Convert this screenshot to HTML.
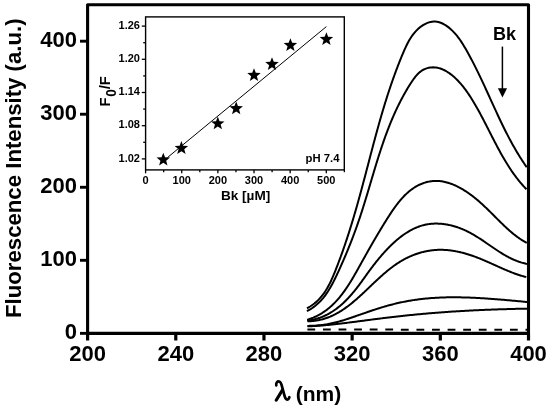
<!DOCTYPE html>
<html><head><meta charset="utf-8"><style>
html,body{margin:0;padding:0;background:#fff;}
svg{display:block;will-change:transform;}
</style></head><body>
<svg width="550" height="412" viewBox="0 0 550 412">
<rect x="87.6" y="4.7" width="440.9" height="328.7" fill="none" stroke="#000" stroke-width="3.1" stroke-linejoin="round"/>
<line x1="87.60" y1="333.4" x2="87.60" y2="340.5" stroke="#000" stroke-width="3.2"/>
<text x="87.60" y="360.6" font-size="22" text-anchor="middle" font-family="'Liberation Sans', sans-serif" font-weight="bold">200</text>
<line x1="175.78" y1="333.4" x2="175.78" y2="340.5" stroke="#000" stroke-width="3.2"/>
<text x="175.78" y="360.6" font-size="22" text-anchor="middle" font-family="'Liberation Sans', sans-serif" font-weight="bold">240</text>
<line x1="263.96" y1="333.4" x2="263.96" y2="340.5" stroke="#000" stroke-width="3.2"/>
<text x="263.96" y="360.6" font-size="22" text-anchor="middle" font-family="'Liberation Sans', sans-serif" font-weight="bold">280</text>
<line x1="352.14" y1="333.4" x2="352.14" y2="340.5" stroke="#000" stroke-width="3.2"/>
<text x="352.14" y="360.6" font-size="22" text-anchor="middle" font-family="'Liberation Sans', sans-serif" font-weight="bold">320</text>
<line x1="440.32" y1="333.4" x2="440.32" y2="340.5" stroke="#000" stroke-width="3.2"/>
<text x="440.32" y="360.6" font-size="22" text-anchor="middle" font-family="'Liberation Sans', sans-serif" font-weight="bold">360</text>
<line x1="528.50" y1="333.4" x2="528.50" y2="340.5" stroke="#000" stroke-width="3.2"/>
<text x="528.50" y="360.6" font-size="22" text-anchor="middle" font-family="'Liberation Sans', sans-serif" font-weight="bold">400</text>
<line x1="80.0" y1="333.35" x2="87.6" y2="333.35" stroke="#000" stroke-width="2.9"/>
<text x="77.0" y="339.05" font-size="22" text-anchor="end" font-family="'Liberation Sans', sans-serif" font-weight="bold">0</text>
<line x1="80.0" y1="260.31" x2="87.6" y2="260.31" stroke="#000" stroke-width="2.9"/>
<text x="77.0" y="266.01" font-size="22" text-anchor="end" font-family="'Liberation Sans', sans-serif" font-weight="bold">100</text>
<line x1="80.0" y1="187.27" x2="87.6" y2="187.27" stroke="#000" stroke-width="2.9"/>
<text x="77.0" y="192.97" font-size="22" text-anchor="end" font-family="'Liberation Sans', sans-serif" font-weight="bold">200</text>
<line x1="80.0" y1="114.23" x2="87.6" y2="114.23" stroke="#000" stroke-width="2.9"/>
<text x="77.0" y="119.93" font-size="22" text-anchor="end" font-family="'Liberation Sans', sans-serif" font-weight="bold">300</text>
<line x1="80.0" y1="41.19" x2="87.6" y2="41.19" stroke="#000" stroke-width="2.9"/>
<text x="77.0" y="46.89" font-size="22" text-anchor="end" font-family="'Liberation Sans', sans-serif" font-weight="bold">400</text>
<text transform="translate(21.3,318) rotate(-90)" x="0" y="0" font-size="22.2" font-family="'Liberation Sans', sans-serif" font-weight="bold">Fluorescence Intensity (a.u.)</text>
<path d="M276.3,385.4 C275.7,382.6 277.5,381.2 279.1,381.5 C280.6,381.8 281.2,383.4 281.7,385.4 L284.7,396.4 C285.5,399.3 286.9,400.2 288.3,399.2 C288.8,398.8 289.2,398.0 289.4,397.2" fill="none" stroke="#000" stroke-width="2.7" stroke-linecap="round"/>
<path d="M282.2,390.4 L276.2,400.2" fill="none" stroke="#000" stroke-width="3.1" stroke-linecap="round"/>
<text x="295.8" y="400.8" font-size="21" font-family="'Liberation Sans', sans-serif" font-weight="bold">(nm)</text>
<path d="M306.98,308.33 L308.57,307.44 L310.11,306.51 L311.58,305.54 L313.00,304.52 L314.36,303.47 L315.67,302.39 L316.92,301.27 L318.12,300.11 L319.28,298.93 L320.39,297.71 L321.46,296.46 L322.48,295.19 L323.47,293.89 L324.41,292.56 L325.32,291.21 L326.20,289.84 L327.05,288.44 L327.86,287.03 L328.65,285.59 L329.41,284.14 L330.15,282.68 L330.86,281.20 L331.56,279.70 L332.23,278.20 L332.90,276.68 L333.54,275.15 L334.18,273.62 L334.81,272.08 L335.43,270.54 L336.04,268.99 L336.65,267.44 L337.25,265.89 L337.85,264.33 L338.44,262.77 L339.03,261.21 L339.61,259.65 L340.19,258.08 L340.77,256.51 L341.34,254.94 L341.90,253.36 L342.46,251.79 L343.02,250.21 L343.57,248.63 L344.12,247.04 L344.67,245.46 L345.21,243.87 L345.74,242.28 L346.27,240.69 L346.80,239.10 L347.33,237.51 L347.85,235.91 L348.36,234.32 L348.88,232.72 L349.39,231.12 L349.89,229.52 L350.39,227.92 L350.89,226.31 L351.39,224.71 L351.88,223.10 L352.37,221.50 L352.85,219.89 L353.34,218.28 L353.82,216.67 L354.29,215.07 L354.76,213.46 L355.23,211.85 L355.70,210.24 L356.17,208.63 L356.63,207.01 L357.09,205.40 L357.54,203.79 L357.99,202.18 L358.45,200.57 L358.89,198.96 L359.34,197.35 L359.78,195.74 L360.22,194.12 L360.66,192.51 L361.10,190.90 L361.54,189.29 L361.97,187.68 L362.40,186.07 L362.84,184.46 L363.27,182.85 L363.69,181.24 L364.12,179.62 L364.55,178.01 L364.97,176.40 L365.40,174.79 L365.82,173.18 L366.24,171.57 L366.66,169.96 L367.09,168.35 L367.51,166.74 L367.93,165.13 L368.35,163.52 L368.77,161.91 L369.19,160.30 L369.61,158.69 L370.03,157.08 L370.46,155.47 L370.88,153.87 L371.30,152.26 L371.72,150.65 L372.15,149.04 L372.57,147.43 L373.00,145.83 L373.43,144.22 L373.86,142.61 L374.29,141.01 L374.72,139.40 L375.15,137.79 L375.58,136.19 L376.02,134.58 L376.46,132.98 L376.90,131.37 L377.34,129.77 L377.78,128.16 L378.23,126.56 L378.68,124.96 L379.13,123.35 L379.58,121.75 L380.04,120.15 L380.50,118.55 L380.96,116.95 L381.42,115.34 L381.89,113.74 L382.36,112.14 L382.84,110.54 L383.31,108.95 L383.80,107.35 L384.28,105.75 L384.77,104.15 L385.26,102.55 L385.76,100.96 L386.26,99.36 L386.76,97.76 L387.27,96.17 L387.78,94.57 L388.30,92.98 L388.82,91.39 L389.35,89.79 L389.88,88.20 L390.41,86.61 L390.96,85.02 L391.50,83.43 L392.05,81.84 L392.61,80.25 L393.17,78.66 L393.74,77.07 L394.31,75.48 L394.89,73.89 L395.47,72.31 L396.06,70.72 L396.66,69.14 L397.26,67.55 L397.87,65.97 L398.48,64.39 L399.10,62.80 L399.73,61.22 L400.36,59.64 L401.01,58.06 L401.65,56.48 L402.31,54.90 L402.97,53.32 L403.64,51.75 L404.32,50.18 L405.02,48.62 L405.73,47.07 L406.47,45.53 L407.22,44.02 L408.00,42.52 L408.81,41.04 L409.65,39.59 L410.52,38.16 L411.43,36.77 L412.38,35.41 L413.36,34.09 L414.39,32.80 L415.47,31.56 L416.60,30.36 L417.77,29.21 L419.01,28.11 L420.29,27.06 L421.64,26.07 L423.04,25.15 L424.48,24.30 L425.96,23.55 L427.47,22.90 L429.01,22.36 L430.56,21.94 L432.12,21.66 L433.69,21.52 L435.25,21.54 L436.81,21.71 L438.36,22.02 L439.89,22.47 L441.41,23.04 L442.90,23.72 L444.37,24.51 L445.81,25.39 L447.23,26.36 L448.61,27.39 L449.95,28.49 L451.25,29.65 L452.51,30.85 L453.72,32.08 L454.88,33.34 L456.00,34.64 L457.09,35.95 L458.13,37.29 L459.14,38.65 L460.12,40.03 L461.07,41.43 L461.99,42.85 L462.90,44.27 L463.78,45.71 L464.64,47.16 L465.49,48.62 L466.33,50.08 L467.16,51.54 L467.98,53.01 L468.79,54.48 L469.60,55.96 L470.39,57.44 L471.18,58.92 L471.96,60.40 L472.74,61.89 L473.51,63.37 L474.27,64.87 L475.03,66.36 L475.78,67.85 L476.52,69.35 L477.26,70.85 L478.00,72.35 L478.73,73.86 L479.45,75.36 L480.17,76.87 L480.89,78.38 L481.60,79.89 L482.31,81.40 L483.02,82.91 L483.72,84.42 L484.43,85.93 L485.13,87.45 L485.82,88.96 L486.52,90.48 L487.21,92.00 L487.90,93.51 L488.59,95.03 L489.28,96.54 L489.97,98.06 L490.66,99.58 L491.35,101.09 L492.04,102.61 L492.73,104.13 L493.43,105.64 L494.12,107.15 L494.81,108.67 L495.51,110.18 L496.20,111.69 L496.90,113.20 L497.61,114.71 L498.31,116.22 L499.02,117.72 L499.73,119.23 L500.44,120.73 L501.16,122.23 L501.88,123.73 L502.61,125.23 L503.34,126.72 L504.08,128.22 L504.82,129.71 L505.56,131.19 L506.32,132.68 L507.07,134.16 L507.84,135.64 L508.61,137.12 L509.38,138.59 L510.17,140.06 L510.96,141.53 L511.76,142.99 L512.56,144.45 L513.38,145.91 L514.20,147.36 L515.03,148.81 L515.87,150.26 L516.72,151.70 L517.58,153.13 L518.45,154.57 L519.33,156.00 L520.22,157.42 L521.11,158.84 L522.02,160.25 L522.94,161.66 L523.88,163.07 L524.82,164.47 L525.77,165.86 L526.74,167.25" fill="none" stroke="#000" stroke-width="2"/>
<path d="M306.92,311.24 L308.32,310.48 L309.69,309.70 L311.01,308.88 L312.29,308.03 L313.52,307.15 L314.73,306.25 L315.89,305.31 L317.02,304.35 L318.11,303.36 L319.17,302.34 L320.20,301.30 L321.19,300.24 L322.16,299.15 L323.10,298.05 L324.01,296.92 L324.89,295.77 L325.75,294.61 L326.59,293.42 L327.40,292.22 L328.19,291.01 L328.97,289.78 L329.72,288.54 L330.46,287.28 L331.17,286.01 L331.88,284.73 L332.57,283.44 L333.25,282.14 L333.91,280.84 L334.57,279.53 L335.22,278.21 L335.86,276.88 L336.49,275.56 L337.12,274.22 L337.74,272.89 L338.36,271.56 L338.98,270.22 L339.59,268.88 L340.20,267.54 L340.80,266.20 L341.40,264.86 L342.00,263.51 L342.60,262.16 L343.19,260.82 L343.77,259.47 L344.36,258.11 L344.94,256.76 L345.51,255.40 L346.08,254.05 L346.65,252.69 L347.22,251.33 L347.78,249.97 L348.33,248.61 L348.89,247.24 L349.43,245.87 L349.98,244.51 L350.52,243.14 L351.06,241.77 L351.59,240.39 L352.12,239.02 L352.65,237.64 L353.17,236.27 L353.69,234.89 L354.20,233.51 L354.71,232.13 L355.22,230.74 L355.72,229.36 L356.22,227.97 L356.72,226.59 L357.21,225.20 L357.69,223.81 L358.18,222.42 L358.65,221.02 L359.13,219.63 L359.60,218.23 L360.07,216.84 L360.53,215.44 L360.99,214.04 L361.45,212.64 L361.90,211.24 L362.35,209.83 L362.80,208.43 L363.24,207.03 L363.68,205.62 L364.12,204.22 L364.56,202.81 L364.99,201.40 L365.42,199.99 L365.85,198.58 L366.28,197.17 L366.71,195.76 L367.14,194.35 L367.56,192.94 L367.98,191.53 L368.41,190.12 L368.83,188.71 L369.25,187.30 L369.67,185.88 L370.09,184.47 L370.51,183.06 L370.93,181.65 L371.35,180.23 L371.77,178.82 L372.19,177.41 L372.61,176.00 L373.03,174.59 L373.45,173.18 L373.87,171.77 L374.30,170.36 L374.72,168.95 L375.15,167.54 L375.58,166.13 L376.01,164.72 L376.44,163.31 L376.88,161.91 L377.31,160.50 L377.75,159.10 L378.19,157.70 L378.64,156.29 L379.08,154.89 L379.53,153.49 L379.98,152.09 L380.44,150.69 L380.90,149.30 L381.36,147.90 L381.83,146.51 L382.30,145.11 L382.77,143.72 L383.25,142.33 L383.73,140.94 L384.22,139.56 L384.71,138.17 L385.20,136.79 L385.70,135.41 L386.21,134.03 L386.72,132.65 L387.24,131.28 L387.76,129.90 L388.28,128.53 L388.82,127.16 L389.36,125.79 L389.90,124.43 L390.45,123.06 L391.01,121.70 L391.57,120.35 L392.14,118.99 L392.72,117.64 L393.31,116.29 L393.90,114.94 L394.50,113.59 L395.10,112.25 L395.72,110.91 L396.34,109.57 L396.97,108.24 L397.60,106.91 L398.25,105.58 L398.90,104.25 L399.57,102.93 L400.24,101.61 L400.92,100.29 L401.61,98.98 L402.30,97.67 L403.01,96.36 L403.73,95.06 L404.45,93.76 L405.19,92.46 L405.93,91.17 L406.69,89.88 L407.45,88.60 L408.23,87.32 L409.01,86.04 L409.81,84.76 L410.62,83.49 L411.44,82.23 L412.27,80.98 L413.12,79.74 L413.99,78.53 L414.89,77.35 L415.82,76.21 L416.78,75.10 L417.77,74.05 L418.80,73.05 L419.87,72.12 L420.98,71.25 L422.15,70.45 L423.36,69.74 L424.63,69.11 L425.95,68.57 L427.33,68.13 L428.76,67.79 L430.21,67.55 L431.68,67.40 L433.16,67.36 L434.62,67.41 L436.07,67.57 L437.50,67.81 L438.92,68.14 L440.32,68.56 L441.71,69.05 L443.07,69.62 L444.42,70.26 L445.75,70.96 L447.06,71.73 L448.35,72.54 L449.61,73.41 L450.86,74.33 L452.08,75.29 L453.27,76.29 L454.44,77.32 L455.58,78.38 L456.70,79.46 L457.79,80.57 L458.85,81.69 L459.88,82.82 L460.88,83.95 L461.85,85.09 L462.79,86.24 L463.71,87.39 L464.60,88.55 L465.47,89.71 L466.32,90.88 L467.16,92.05 L467.97,93.24 L468.78,94.42 L469.57,95.62 L470.35,96.82 L471.12,98.04 L471.88,99.25 L472.64,100.48 L473.39,101.71 L474.13,102.95 L474.87,104.20 L475.60,105.45 L476.32,106.71 L477.04,107.98 L477.75,109.25 L478.46,110.52 L479.17,111.80 L479.87,113.09 L480.56,114.38 L481.25,115.67 L481.94,116.96 L482.63,118.26 L483.31,119.57 L483.99,120.87 L484.67,122.18 L485.34,123.50 L486.02,124.81 L486.69,126.12 L487.36,127.44 L488.03,128.76 L488.70,130.08 L489.37,131.40 L490.04,132.72 L490.72,134.04 L491.39,135.36 L492.06,136.68 L492.74,138.00 L493.41,139.32 L494.09,140.64 L494.77,141.95 L495.46,143.27 L496.15,144.58 L496.84,145.89 L497.53,147.20 L498.23,148.50 L498.93,149.81 L499.64,151.10 L500.35,152.40 L501.06,153.69 L501.79,154.98 L502.51,156.26 L503.25,157.54 L503.99,158.81 L504.74,160.08 L505.49,161.34 L506.25,162.59 L507.02,163.84 L507.80,165.09 L508.58,166.32 L509.38,167.55 L510.18,168.78 L510.99,169.99 L511.81,171.20 L512.64,172.40 L513.48,173.59 L514.33,174.77 L515.20,175.94 L516.07,177.11 L516.95,178.26 L517.85,179.41 L518.76,180.54 L519.67,181.67 L520.61,182.78 L521.55,183.89 L522.51,184.98 L523.48,186.06 L524.47,187.13 L525.47,188.19 L526.48,189.23" fill="none" stroke="#000" stroke-width="2"/>
<path d="M307.08,319.80 L308.15,319.48 L309.20,319.14 L310.24,318.78 L311.26,318.41 L312.27,318.02 L313.27,317.62 L314.25,317.20 L315.22,316.77 L316.18,316.32 L317.13,315.85 L318.06,315.37 L318.98,314.88 L319.89,314.37 L320.79,313.85 L321.67,313.31 L322.54,312.76 L323.41,312.20 L324.26,311.63 L325.10,311.04 L325.92,310.44 L326.74,309.83 L327.55,309.21 L328.35,308.57 L329.13,307.92 L329.91,307.26 L330.68,306.60 L331.43,305.92 L332.18,305.23 L332.92,304.53 L333.65,303.82 L334.37,303.10 L335.08,302.37 L335.78,301.63 L336.48,300.88 L337.16,300.12 L337.84,299.36 L338.51,298.59 L339.17,297.81 L339.83,297.02 L340.47,296.22 L341.11,295.42 L341.75,294.61 L342.37,293.79 L342.99,292.97 L343.61,292.14 L344.21,291.30 L344.82,290.46 L345.41,289.61 L346.00,288.76 L346.58,287.91 L347.16,287.04 L347.73,286.18 L348.30,285.31 L348.86,284.43 L349.42,283.55 L349.98,282.67 L350.53,281.79 L351.07,280.90 L351.61,280.01 L352.15,279.12 L352.68,278.22 L353.21,277.32 L353.74,276.42 L354.26,275.52 L354.78,274.62 L355.30,273.72 L355.82,272.81 L356.33,271.91 L356.84,271.00 L357.35,270.10 L357.86,269.19 L358.36,268.29 L358.87,267.38 L359.37,266.48 L359.87,265.58 L360.37,264.68 L360.87,263.78 L361.37,262.88 L361.86,261.99 L362.36,261.10 L362.86,260.20 L363.36,259.31 L363.85,258.42 L364.35,257.54 L364.85,256.65 L365.34,255.77 L365.84,254.88 L366.33,254.00 L366.83,253.12 L367.33,252.23 L367.82,251.35 L368.32,250.47 L368.82,249.60 L369.32,248.72 L369.82,247.84 L370.32,246.96 L370.82,246.08 L371.32,245.21 L371.83,244.33 L372.33,243.45 L372.84,242.58 L373.34,241.70 L373.85,240.82 L374.36,239.95 L374.87,239.07 L375.39,238.19 L375.90,237.32 L376.42,236.44 L376.94,235.56 L377.46,234.68 L377.98,233.80 L378.50,232.92 L379.03,232.03 L379.56,231.15 L380.09,230.27 L380.62,229.38 L381.16,228.50 L381.70,227.61 L382.24,226.72 L382.79,225.83 L383.33,224.94 L383.88,224.04 L384.44,223.15 L384.99,222.25 L385.55,221.35 L386.12,220.45 L386.68,219.55 L387.25,218.65 L387.83,217.74 L388.40,216.84 L388.98,215.93 L389.57,215.03 L390.16,214.12 L390.75,213.22 L391.35,212.32 L391.96,211.42 L392.57,210.53 L393.18,209.64 L393.80,208.75 L394.43,207.87 L395.06,207.00 L395.70,206.12 L396.34,205.26 L396.99,204.40 L397.65,203.55 L398.31,202.71 L398.98,201.87 L399.66,201.05 L400.34,200.23 L401.04,199.43 L401.74,198.63 L402.45,197.84 L403.16,197.07 L403.89,196.31 L404.62,195.56 L405.36,194.82 L406.11,194.10 L406.87,193.39 L407.63,192.70 L408.41,192.02 L409.20,191.35 L409.99,190.70 L410.80,190.07 L411.61,189.46 L412.44,188.86 L413.28,188.28 L414.12,187.72 L414.98,187.18 L415.85,186.66 L416.73,186.15 L417.62,185.67 L418.52,185.21 L419.42,184.77 L420.34,184.36 L421.27,183.96 L422.20,183.59 L423.14,183.24 L424.09,182.91 L425.04,182.60 L426.00,182.32 L426.97,182.07 L427.94,181.84 L428.92,181.63 L429.90,181.45 L430.88,181.29 L431.87,181.16 L432.86,181.06 L433.86,180.98 L434.85,180.93 L435.85,180.91 L436.85,180.92 L437.85,180.95 L438.85,181.01 L439.85,181.10 L440.85,181.22 L441.85,181.36 L442.85,181.52 L443.85,181.71 L444.84,181.93 L445.84,182.17 L446.83,182.43 L447.82,182.71 L448.81,183.01 L449.80,183.34 L450.79,183.68 L451.77,184.05 L452.75,184.43 L453.72,184.83 L454.69,185.25 L455.66,185.69 L456.62,186.14 L457.58,186.61 L458.54,187.10 L459.49,187.60 L460.43,188.11 L461.37,188.63 L462.30,189.17 L463.23,189.72 L464.15,190.29 L465.06,190.86 L465.97,191.44 L466.86,192.04 L467.76,192.64 L468.64,193.25 L469.52,193.87 L470.38,194.49 L471.24,195.13 L472.09,195.76 L472.94,196.41 L473.77,197.06 L474.60,197.72 L475.42,198.38 L476.24,199.04 L477.04,199.71 L477.85,200.39 L478.64,201.07 L479.43,201.76 L480.21,202.44 L480.99,203.14 L481.76,203.83 L482.53,204.53 L483.29,205.24 L484.05,205.94 L484.80,206.65 L485.55,207.36 L486.29,208.07 L487.04,208.79 L487.77,209.50 L488.51,210.22 L489.24,210.94 L489.97,211.66 L490.70,212.38 L491.42,213.10 L492.15,213.83 L492.87,214.55 L493.59,215.27 L494.31,215.99 L495.03,216.71 L495.74,217.43 L496.46,218.15 L497.18,218.87 L497.90,219.59 L498.61,220.30 L499.33,221.02 L500.05,221.73 L500.77,222.44 L501.49,223.14 L502.21,223.84 L502.94,224.54 L503.66,225.24 L504.39,225.93 L505.12,226.62 L505.86,227.31 L506.59,227.99 L507.33,228.67 L508.07,229.34 L508.82,230.01 L509.57,230.67 L510.33,231.33 L511.09,231.98 L511.85,232.63 L512.62,233.26 L513.40,233.90 L514.18,234.53 L514.96,235.15 L515.76,235.76 L516.56,236.36 L517.36,236.96 L518.18,237.55 L519.00,238.14 L519.83,238.71 L520.67,239.28 L521.51,239.84 L522.37,240.39 L523.23,240.93 L524.10,241.46 L524.98,241.98 L525.88,242.49 L526.78,242.99" fill="none" stroke="#000" stroke-width="2"/>
<path d="M307.14,320.50 L308.11,320.40 L309.07,320.29 L310.02,320.15 L310.96,320.01 L311.89,319.84 L312.82,319.67 L313.73,319.47 L314.64,319.26 L315.55,319.04 L316.44,318.80 L317.33,318.54 L318.21,318.28 L319.08,317.99 L319.95,317.70 L320.80,317.39 L321.65,317.06 L322.50,316.73 L323.33,316.38 L324.16,316.02 L324.98,315.64 L325.80,315.25 L326.60,314.86 L327.41,314.45 L328.20,314.02 L328.99,313.59 L329.77,313.15 L330.54,312.69 L331.31,312.23 L332.07,311.75 L332.82,311.26 L333.57,310.77 L334.31,310.26 L335.04,309.75 L335.77,309.22 L336.49,308.69 L337.20,308.15 L337.91,307.60 L338.61,307.04 L339.31,306.47 L340.00,305.90 L340.69,305.32 L341.36,304.73 L342.04,304.13 L342.70,303.53 L343.37,302.92 L344.02,302.30 L344.67,301.68 L345.31,301.05 L345.95,300.42 L346.59,299.78 L347.21,299.14 L347.84,298.49 L348.45,297.84 L349.06,297.18 L349.67,296.52 L350.27,295.85 L350.87,295.18 L351.46,294.51 L352.04,293.83 L352.62,293.15 L353.20,292.47 L353.77,291.78 L354.34,291.09 L354.90,290.41 L355.45,289.71 L356.00,289.02 L356.55,288.33 L357.09,287.63 L357.63,286.93 L358.17,286.24 L358.69,285.54 L359.22,284.84 L359.74,284.14 L360.26,283.44 L360.77,282.75 L361.28,282.05 L361.79,281.35 L362.29,280.65 L362.79,279.96 L363.29,279.26 L363.79,278.56 L364.28,277.87 L364.78,277.17 L365.28,276.48 L365.77,275.78 L366.27,275.09 L366.76,274.40 L367.26,273.70 L367.76,273.01 L368.26,272.32 L368.76,271.63 L369.27,270.94 L369.77,270.25 L370.29,269.56 L370.80,268.87 L371.32,268.18 L371.84,267.49 L372.36,266.80 L372.89,266.10 L373.42,265.41 L373.96,264.72 L374.50,264.02 L375.04,263.33 L375.59,262.63 L376.15,261.93 L376.71,261.23 L377.27,260.53 L377.84,259.83 L378.42,259.13 L379.00,258.43 L379.58,257.73 L380.17,257.03 L380.76,256.33 L381.36,255.64 L381.96,254.94 L382.56,254.25 L383.17,253.55 L383.79,252.86 L384.41,252.17 L385.03,251.49 L385.66,250.80 L386.30,250.12 L386.93,249.45 L387.58,248.77 L388.22,248.10 L388.87,247.44 L389.53,246.77 L390.19,246.12 L390.85,245.46 L391.52,244.82 L392.19,244.17 L392.87,243.54 L393.55,242.90 L394.24,242.28 L394.93,241.66 L395.62,241.04 L396.32,240.44 L397.03,239.84 L397.73,239.24 L398.45,238.66 L399.16,238.08 L399.88,237.51 L400.61,236.95 L401.33,236.39 L402.07,235.84 L402.80,235.31 L403.55,234.78 L404.29,234.26 L405.04,233.75 L405.79,233.25 L406.55,232.76 L407.31,232.28 L408.08,231.81 L408.85,231.35 L409.62,230.90 L410.40,230.47 L411.18,230.04 L411.97,229.63 L412.76,229.22 L413.55,228.83 L414.35,228.45 L415.15,228.09 L415.95,227.74 L416.76,227.40 L417.58,227.07 L418.39,226.76 L419.22,226.46 L420.04,226.17 L420.87,225.90 L421.70,225.64 L422.54,225.40 L423.38,225.17 L424.22,224.96 L425.07,224.77 L425.92,224.58 L426.78,224.42 L427.64,224.27 L428.50,224.13 L429.36,224.02 L430.23,223.91 L431.10,223.82 L431.98,223.75 L432.85,223.69 L433.73,223.64 L434.61,223.61 L435.49,223.59 L436.37,223.59 L437.26,223.60 L438.14,223.63 L439.03,223.67 L439.92,223.72 L440.81,223.78 L441.69,223.86 L442.58,223.95 L443.47,224.05 L444.36,224.17 L445.24,224.30 L446.13,224.44 L447.02,224.59 L447.90,224.76 L448.79,224.93 L449.67,225.12 L450.55,225.32 L451.43,225.53 L452.31,225.75 L453.18,225.99 L454.05,226.23 L454.92,226.49 L455.79,226.75 L456.65,227.03 L457.51,227.31 L458.37,227.61 L459.23,227.92 L460.08,228.23 L460.92,228.56 L461.77,228.89 L462.60,229.24 L463.44,229.59 L464.26,229.95 L465.09,230.32 L465.91,230.70 L466.72,231.09 L467.53,231.49 L468.33,231.89 L469.13,232.30 L469.93,232.72 L470.72,233.15 L471.51,233.58 L472.29,234.02 L473.07,234.47 L473.84,234.92 L474.62,235.38 L475.39,235.84 L476.15,236.31 L476.92,236.78 L477.68,237.25 L478.43,237.73 L479.19,238.22 L479.94,238.71 L480.69,239.20 L481.44,239.69 L482.19,240.19 L482.94,240.69 L483.68,241.19 L484.42,241.70 L485.17,242.20 L485.91,242.71 L486.65,243.22 L487.39,243.72 L488.12,244.23 L488.86,244.74 L489.60,245.25 L490.34,245.76 L491.08,246.27 L491.82,246.78 L492.55,247.28 L493.29,247.79 L494.03,248.29 L494.78,248.79 L495.52,249.29 L496.26,249.79 L497.01,250.28 L497.75,250.77 L498.50,251.26 L499.25,251.74 L500.00,252.22 L500.76,252.69 L501.51,253.16 L502.27,253.63 L503.03,254.09 L503.80,254.54 L504.56,254.99 L505.33,255.43 L506.11,255.87 L506.88,256.30 L507.66,256.72 L508.45,257.14 L509.24,257.55 L510.03,257.95 L510.82,258.34 L511.63,258.72 L512.43,259.10 L513.24,259.47 L514.06,259.83 L514.88,260.17 L515.70,260.51 L516.53,260.84 L517.37,261.16 L518.21,261.47 L519.05,261.77 L519.91,262.05 L520.77,262.33 L521.63,262.59 L522.51,262.84 L523.38,263.08 L524.27,263.31 L525.16,263.52 L526.06,263.73 L526.97,263.91" fill="none" stroke="#000" stroke-width="2"/>
<path d="M307.53,321.30 L308.42,321.28 L309.30,321.26 L310.17,321.22 L311.04,321.17 L311.90,321.11 L312.76,321.03 L313.61,320.94 L314.45,320.85 L315.29,320.73 L316.12,320.61 L316.95,320.48 L317.77,320.33 L318.59,320.18 L319.40,320.01 L320.20,319.83 L321.00,319.64 L321.80,319.44 L322.59,319.24 L323.37,319.02 L324.15,318.79 L324.92,318.55 L325.69,318.30 L326.46,318.04 L327.22,317.77 L327.97,317.49 L328.72,317.20 L329.47,316.90 L330.21,316.60 L330.95,316.28 L331.68,315.96 L332.41,315.63 L333.14,315.29 L333.86,314.94 L334.57,314.58 L335.29,314.22 L336.00,313.84 L336.70,313.46 L337.40,313.07 L338.10,312.68 L338.79,312.28 L339.49,311.87 L340.17,311.45 L340.86,311.03 L341.54,310.60 L342.22,310.16 L342.89,309.72 L343.56,309.27 L344.23,308.81 L344.90,308.35 L345.56,307.88 L346.22,307.41 L346.88,306.93 L347.53,306.45 L348.19,305.96 L348.84,305.46 L349.48,304.96 L350.13,304.46 L350.77,303.95 L351.41,303.44 L352.05,302.92 L352.69,302.40 L353.32,301.87 L353.96,301.34 L354.59,300.81 L355.22,300.27 L355.85,299.73 L356.47,299.18 L357.10,298.64 L357.72,298.09 L358.34,297.53 L358.97,296.98 L359.59,296.42 L360.20,295.86 L360.82,295.29 L361.44,294.72 L362.05,294.16 L362.67,293.59 L363.28,293.01 L363.90,292.44 L364.51,291.86 L365.12,291.29 L365.73,290.71 L366.35,290.13 L366.96,289.55 L367.57,288.97 L368.18,288.39 L368.79,287.81 L369.40,287.23 L370.01,286.64 L370.62,286.06 L371.23,285.48 L371.84,284.90 L372.45,284.31 L373.07,283.73 L373.68,283.15 L374.29,282.57 L374.91,281.99 L375.52,281.42 L376.14,280.84 L376.75,280.26 L377.37,279.69 L377.99,279.12 L378.61,278.55 L379.23,277.98 L379.85,277.41 L380.47,276.85 L381.09,276.29 L381.72,275.73 L382.35,275.17 L382.98,274.62 L383.61,274.07 L384.24,273.52 L384.87,272.97 L385.51,272.43 L386.15,271.90 L386.78,271.36 L387.43,270.83 L388.07,270.31 L388.72,269.78 L389.37,269.27 L390.02,268.75 L390.67,268.24 L391.33,267.74 L391.98,267.24 L392.65,266.75 L393.31,266.26 L393.98,265.77 L394.65,265.29 L395.32,264.82 L395.99,264.35 L396.67,263.89 L397.36,263.43 L398.04,262.99 L398.73,262.54 L399.42,262.10 L400.12,261.67 L400.82,261.25 L401.52,260.83 L402.23,260.42 L402.94,260.02 L403.65,259.62 L404.37,259.24 L405.09,258.85 L405.81,258.48 L406.54,258.11 L407.27,257.75 L408.00,257.40 L408.74,257.05 L409.47,256.71 L410.22,256.38 L410.96,256.06 L411.71,255.74 L412.46,255.43 L413.21,255.13 L413.97,254.84 L414.73,254.55 L415.49,254.28 L416.25,254.01 L417.01,253.74 L417.78,253.49 L418.55,253.24 L419.33,253.01 L420.10,252.78 L420.88,252.56 L421.66,252.34 L422.44,252.14 L423.22,251.94 L424.00,251.75 L424.79,251.57 L425.58,251.40 L426.37,251.24 L427.16,251.08 L427.95,250.94 L428.75,250.80 L429.54,250.67 L430.34,250.55 L431.14,250.44 L431.94,250.34 L432.74,250.24 L433.54,250.16 L434.35,250.08 L435.15,250.02 L435.96,249.96 L436.76,249.91 L437.57,249.87 L438.38,249.84 L439.19,249.82 L440.00,249.81 L440.81,249.81 L441.62,249.82 L442.43,249.83 L443.24,249.86 L444.06,249.89 L444.87,249.93 L445.68,249.98 L446.50,250.04 L447.31,250.11 L448.13,250.18 L448.94,250.26 L449.75,250.35 L450.57,250.45 L451.38,250.56 L452.20,250.67 L453.01,250.80 L453.83,250.93 L454.64,251.06 L455.45,251.21 L456.27,251.36 L457.08,251.52 L457.89,251.68 L458.71,251.86 L459.52,252.04 L460.33,252.22 L461.14,252.42 L461.95,252.61 L462.76,252.82 L463.57,253.03 L464.37,253.25 L465.18,253.48 L465.99,253.71 L466.79,253.94 L467.60,254.19 L468.40,254.44 L469.20,254.69 L470.00,254.95 L470.80,255.21 L471.60,255.49 L472.39,255.76 L473.19,256.04 L473.98,256.33 L474.78,256.62 L475.57,256.91 L476.36,257.21 L477.15,257.51 L477.94,257.82 L478.73,258.13 L479.51,258.44 L480.30,258.76 L481.08,259.08 L481.86,259.41 L482.65,259.73 L483.43,260.06 L484.21,260.39 L484.98,260.72 L485.76,261.06 L486.54,261.40 L487.31,261.74 L488.09,262.08 L488.86,262.42 L489.63,262.76 L490.40,263.10 L491.17,263.45 L491.94,263.79 L492.71,264.14 L493.47,264.48 L494.24,264.83 L495.00,265.17 L495.77,265.52 L496.53,265.86 L497.29,266.21 L498.05,266.55 L498.81,266.89 L499.57,267.23 L500.33,267.57 L501.08,267.91 L501.84,268.24 L502.59,268.57 L503.35,268.91 L504.10,269.23 L504.85,269.56 L505.60,269.88 L506.35,270.20 L507.10,270.52 L507.85,270.83 L508.60,271.14 L509.34,271.45 L510.09,271.75 L510.83,272.05 L511.58,272.35 L512.32,272.64 L513.06,272.92 L513.80,273.20 L514.54,273.48 L515.28,273.75 L516.02,274.01 L516.76,274.27 L517.50,274.52 L518.24,274.77 L518.97,275.01 L519.71,275.25 L520.44,275.48 L521.17,275.70 L521.91,275.91 L522.64,276.12 L523.37,276.32 L524.10,276.52 L524.83,276.70 L525.56,276.88 L526.29,277.05" fill="none" stroke="#000" stroke-width="2"/>
<path d="M307.50,325.92 L308.60,325.90 L309.71,325.87 L310.81,325.84 L311.91,325.80 L313.02,325.75 L314.12,325.69 L315.22,325.63 L316.32,325.55 L317.43,325.47 L318.53,325.37 L319.63,325.26 L320.74,325.15 L321.84,325.02 L322.94,324.88 L324.05,324.72 L325.15,324.56 L326.25,324.38 L327.35,324.19 L328.46,323.99 L329.56,323.78 L330.66,323.56 L331.77,323.32 L332.87,323.08 L333.97,322.82 L335.08,322.55 L336.18,322.28 L337.28,321.99 L338.38,321.69 L339.49,321.39 L340.59,321.07 L341.69,320.75 L342.80,320.42 L343.90,320.09 L345.00,319.75 L346.11,319.40 L347.21,319.04 L348.31,318.68 L349.41,318.32 L350.52,317.95 L351.62,317.57 L352.72,317.20 L353.83,316.82 L354.93,316.44 L356.03,316.05 L357.14,315.67 L358.24,315.28 L359.34,314.90 L360.44,314.51 L361.55,314.12 L362.65,313.73 L363.75,313.35 L364.86,312.96 L365.96,312.58 L367.06,312.19 L368.17,311.81 L369.27,311.44 L370.37,311.06 L371.47,310.69 L372.58,310.32 L373.68,309.95 L374.78,309.59 L375.89,309.23 L376.99,308.87 L378.09,308.52 L379.20,308.18 L380.30,307.83 L381.40,307.50 L382.51,307.16 L383.61,306.84 L384.71,306.51 L385.81,306.20 L386.92,305.88 L388.02,305.58 L389.12,305.28 L390.23,304.98 L391.33,304.69 L392.43,304.41 L393.54,304.13 L394.64,303.85 L395.74,303.59 L396.84,303.33 L397.95,303.07 L399.05,302.82 L400.15,302.58 L401.26,302.34 L402.36,302.11 L403.46,301.88 L404.57,301.66 L405.67,301.45 L406.77,301.24 L407.87,301.04 L408.98,300.85 L410.08,300.66 L411.18,300.47 L412.29,300.29 L413.39,300.12 L414.49,299.96 L415.60,299.79 L416.70,299.64 L417.80,299.49 L418.90,299.35 L420.01,299.21 L421.11,299.07 L422.21,298.95 L423.32,298.82 L424.42,298.71 L425.52,298.59 L426.63,298.49 L427.73,298.39 L428.83,298.29 L429.93,298.20 L431.04,298.11 L432.14,298.03 L433.24,297.95 L434.35,297.88 L435.45,297.81 L436.55,297.75 L437.66,297.69 L438.76,297.64 L439.86,297.59 L440.96,297.54 L442.07,297.50 L443.17,297.46 L444.27,297.43 L445.38,297.40 L446.48,297.37 L447.58,297.35 L448.69,297.33 L449.79,297.32 L450.89,297.31 L451.99,297.30 L453.10,297.30 L454.20,297.30 L455.30,297.30 L456.41,297.31 L457.51,297.32 L458.61,297.33 L459.72,297.35 L460.82,297.37 L461.92,297.39 L463.03,297.41 L464.13,297.44 L465.23,297.47 L466.33,297.51 L467.44,297.54 L468.54,297.58 L469.64,297.62 L470.75,297.67 L471.85,297.71 L472.95,297.76 L474.06,297.81 L475.16,297.86 L476.26,297.92 L477.36,297.98 L478.47,298.04 L479.57,298.10 L480.67,298.16 L481.78,298.23 L482.88,298.29 L483.98,298.36 L485.09,298.43 L486.19,298.51 L487.29,298.58 L488.39,298.66 L489.50,298.73 L490.60,298.81 L491.70,298.89 L492.81,298.97 L493.91,299.06 L495.01,299.14 L496.12,299.23 L497.22,299.32 L498.32,299.40 L499.42,299.49 L500.53,299.58 L501.63,299.68 L502.73,299.77 L503.84,299.86 L504.94,299.96 L506.04,300.05 L507.15,300.15 L508.25,300.25 L509.35,300.35 L510.45,300.45 L511.56,300.55 L512.66,300.65 L513.76,300.75 L514.87,300.85 L515.97,300.95 L517.07,301.06 L518.18,301.16 L519.28,301.27 L520.38,301.37 L521.48,301.48 L522.59,301.59 L523.69,301.69 L524.79,301.80 L525.90,301.91 L527.00,302.02" fill="none" stroke="#000" stroke-width="2"/>
<path d="M307.50,326.32 L308.60,326.28 L309.71,326.24 L310.81,326.19 L311.91,326.14 L313.02,326.08 L314.12,326.02 L315.22,325.95 L316.32,325.88 L317.43,325.81 L318.53,325.73 L319.63,325.65 L320.74,325.57 L321.84,325.48 L322.94,325.39 L324.05,325.30 L325.15,325.20 L326.25,325.10 L327.35,325.00 L328.46,324.89 L329.56,324.78 L330.66,324.67 L331.77,324.56 L332.87,324.44 L333.97,324.33 L335.08,324.20 L336.18,324.08 L337.28,323.96 L338.38,323.83 L339.49,323.70 L340.59,323.57 L341.69,323.44 L342.80,323.31 L343.90,323.18 L345.00,323.04 L346.11,322.90 L347.21,322.77 L348.31,322.63 L349.41,322.49 L350.52,322.35 L351.62,322.21 L352.72,322.07 L353.83,321.93 L354.93,321.78 L356.03,321.64 L357.14,321.50 L358.24,321.35 L359.34,321.21 L360.44,321.07 L361.55,320.92 L362.65,320.78 L363.75,320.64 L364.86,320.49 L365.96,320.35 L367.06,320.20 L368.17,320.06 L369.27,319.92 L370.37,319.78 L371.47,319.63 L372.58,319.49 L373.68,319.35 L374.78,319.21 L375.89,319.07 L376.99,318.93 L378.09,318.79 L379.20,318.65 L380.30,318.52 L381.40,318.38 L382.51,318.24 L383.61,318.11 L384.71,317.97 L385.81,317.84 L386.92,317.70 L388.02,317.57 L389.12,317.44 L390.23,317.31 L391.33,317.18 L392.43,317.05 L393.54,316.92 L394.64,316.79 L395.74,316.67 L396.84,316.54 L397.95,316.42 L399.05,316.29 L400.15,316.17 L401.26,316.05 L402.36,315.93 L403.46,315.81 L404.57,315.69 L405.67,315.58 L406.77,315.46 L407.87,315.34 L408.98,315.23 L410.08,315.12 L411.18,315.00 L412.29,314.89 L413.39,314.78 L414.49,314.68 L415.60,314.57 L416.70,314.46 L417.80,314.36 L418.90,314.25 L420.01,314.15 L421.11,314.05 L422.21,313.94 L423.32,313.84 L424.42,313.74 L425.52,313.65 L426.63,313.55 L427.73,313.45 L428.83,313.36 L429.93,313.27 L431.04,313.17 L432.14,313.08 L433.24,312.99 L434.35,312.90 L435.45,312.81 L436.55,312.73 L437.66,312.64 L438.76,312.56 L439.86,312.47 L440.96,312.39 L442.07,312.31 L443.17,312.23 L444.27,312.15 L445.38,312.07 L446.48,311.99 L447.58,311.91 L448.69,311.84 L449.79,311.76 L450.89,311.69 L451.99,311.61 L453.10,311.54 L454.20,311.47 L455.30,311.40 L456.41,311.33 L457.51,311.26 L458.61,311.20 L459.72,311.13 L460.82,311.07 L461.92,311.00 L463.03,310.94 L464.13,310.88 L465.23,310.81 L466.33,310.75 L467.44,310.69 L468.54,310.64 L469.64,310.58 L470.75,310.52 L471.85,310.47 L472.95,310.41 L474.06,310.36 L475.16,310.30 L476.26,310.25 L477.36,310.20 L478.47,310.15 L479.57,310.10 L480.67,310.05 L481.78,310.00 L482.88,309.95 L483.98,309.91 L485.09,309.86 L486.19,309.81 L487.29,309.77 L488.39,309.73 L489.50,309.68 L490.60,309.64 L491.70,309.60 L492.81,309.56 L493.91,309.52 L495.01,309.48 L496.12,309.44 L497.22,309.40 L498.32,309.37 L499.42,309.33 L500.53,309.30 L501.63,309.26 L502.73,309.23 L503.84,309.19 L504.94,309.16 L506.04,309.13 L507.15,309.10 L508.25,309.07 L509.35,309.04 L510.45,309.01 L511.56,308.98 L512.66,308.95 L513.76,308.92 L514.87,308.90 L515.97,308.87 L517.07,308.85 L518.18,308.82 L519.28,308.80 L520.38,308.77 L521.48,308.75 L522.59,308.73 L523.69,308.70 L524.79,308.68 L525.90,308.66 L527.00,308.64" fill="none" stroke="#000" stroke-width="2"/>
<line x1="307.4" y1="329.5" x2="527.0" y2="329.8" stroke="#000" stroke-width="2" stroke-dasharray="7.8 7.78"/>
<text x="493" y="39.8" font-size="18" font-family="'Liberation Sans', sans-serif" font-weight="bold">Bk</text>
<line x1="502.4" y1="46.6" x2="502.4" y2="90" stroke="#000" stroke-width="1.5"/>
<path d="M497.9,88.3 L507.1,88.3 L502.4,97.5 Z" fill="#000"/>
<rect x="145.6" y="16.9" width="198.70000000000002" height="153.0" fill="#fff" stroke="#000" stroke-width="1.4"/>
<line x1="145.60" y1="169.9" x2="145.60" y2="173.30" stroke="#000" stroke-width="1.3"/>
<text x="145.60" y="184.1" font-size="11" text-anchor="middle" font-family="'Liberation Sans', sans-serif" font-weight="bold">0</text>
<line x1="163.67" y1="169.9" x2="163.67" y2="172.20" stroke="#000" stroke-width="1.3"/>
<line x1="181.74" y1="169.9" x2="181.74" y2="173.30" stroke="#000" stroke-width="1.3"/>
<text x="181.74" y="184.1" font-size="11" text-anchor="middle" font-family="'Liberation Sans', sans-serif" font-weight="bold">100</text>
<line x1="199.81" y1="169.9" x2="199.81" y2="172.20" stroke="#000" stroke-width="1.3"/>
<line x1="217.88" y1="169.9" x2="217.88" y2="173.30" stroke="#000" stroke-width="1.3"/>
<text x="217.88" y="184.1" font-size="11" text-anchor="middle" font-family="'Liberation Sans', sans-serif" font-weight="bold">200</text>
<line x1="235.95" y1="169.9" x2="235.95" y2="172.20" stroke="#000" stroke-width="1.3"/>
<line x1="254.02" y1="169.9" x2="254.02" y2="173.30" stroke="#000" stroke-width="1.3"/>
<text x="254.02" y="184.1" font-size="11" text-anchor="middle" font-family="'Liberation Sans', sans-serif" font-weight="bold">300</text>
<line x1="272.09" y1="169.9" x2="272.09" y2="172.20" stroke="#000" stroke-width="1.3"/>
<line x1="290.16" y1="169.9" x2="290.16" y2="173.30" stroke="#000" stroke-width="1.3"/>
<text x="290.16" y="184.1" font-size="11" text-anchor="middle" font-family="'Liberation Sans', sans-serif" font-weight="bold">400</text>
<line x1="308.23" y1="169.9" x2="308.23" y2="172.20" stroke="#000" stroke-width="1.3"/>
<line x1="326.30" y1="169.9" x2="326.30" y2="173.30" stroke="#000" stroke-width="1.3"/>
<text x="326.30" y="184.1" font-size="11" text-anchor="middle" font-family="'Liberation Sans', sans-serif" font-weight="bold">500</text>
<line x1="344.37" y1="169.9" x2="344.37" y2="172.20" stroke="#000" stroke-width="1.3"/>
<line x1="141.80" y1="158.90" x2="145.6" y2="158.90" stroke="#000" stroke-width="1.3"/>
<text x="140" y="161.60" font-size="11" text-anchor="end" font-family="'Liberation Sans', sans-serif" font-weight="bold">1.02</text>
<line x1="143.20" y1="142.30" x2="145.6" y2="142.30" stroke="#000" stroke-width="1.3"/>
<line x1="141.80" y1="125.70" x2="145.6" y2="125.70" stroke="#000" stroke-width="1.3"/>
<text x="140" y="128.40" font-size="11" text-anchor="end" font-family="'Liberation Sans', sans-serif" font-weight="bold">1.08</text>
<line x1="143.20" y1="109.10" x2="145.6" y2="109.10" stroke="#000" stroke-width="1.3"/>
<line x1="141.80" y1="92.50" x2="145.6" y2="92.50" stroke="#000" stroke-width="1.3"/>
<text x="140" y="95.20" font-size="11" text-anchor="end" font-family="'Liberation Sans', sans-serif" font-weight="bold">1.14</text>
<line x1="143.20" y1="75.90" x2="145.6" y2="75.90" stroke="#000" stroke-width="1.3"/>
<line x1="141.80" y1="59.30" x2="145.6" y2="59.30" stroke="#000" stroke-width="1.3"/>
<text x="140" y="62.00" font-size="11" text-anchor="end" font-family="'Liberation Sans', sans-serif" font-weight="bold">1.20</text>
<line x1="143.20" y1="42.70" x2="145.6" y2="42.70" stroke="#000" stroke-width="1.3"/>
<line x1="141.80" y1="26.10" x2="145.6" y2="26.10" stroke="#000" stroke-width="1.3"/>
<text x="140" y="28.80" font-size="11" text-anchor="end" font-family="'Liberation Sans', sans-serif" font-weight="bold">1.26</text>
<line x1="167.5" y1="157.5" x2="326.4" y2="26.6" stroke="#000" stroke-width="1"/>
<polygon points="163.30,152.70 165.06,157.37 170.05,157.61 166.15,160.73 167.47,165.54 163.30,162.80 159.13,165.54 160.45,160.73 156.55,157.61 161.54,157.37" fill="#000"/>
<polygon points="181.40,141.10 183.16,145.77 188.15,146.01 184.25,149.13 185.57,153.94 181.40,151.20 177.23,153.94 178.55,149.13 174.65,146.01 179.64,145.77" fill="#000"/>
<polygon points="217.80,116.50 219.56,121.17 224.55,121.41 220.65,124.53 221.97,129.34 217.80,126.60 213.63,129.34 214.95,124.53 211.05,121.41 216.04,121.17" fill="#000"/>
<polygon points="236.20,101.40 237.96,106.07 242.95,106.31 239.05,109.43 240.37,114.24 236.20,111.50 232.03,114.24 233.35,109.43 229.45,106.31 234.44,106.07" fill="#000"/>
<polygon points="254.00,68.20 255.76,72.87 260.75,73.11 256.85,76.23 258.17,81.04 254.00,78.30 249.83,81.04 251.15,76.23 247.25,73.11 252.24,72.87" fill="#000"/>
<polygon points="272.00,57.20 273.76,61.87 278.75,62.11 274.85,65.23 276.17,70.04 272.00,67.30 267.83,70.04 269.15,65.23 265.25,62.11 270.24,61.87" fill="#000"/>
<polygon points="290.40,38.20 292.16,42.87 297.15,43.11 293.25,46.23 294.57,51.04 290.40,48.30 286.23,51.04 287.55,46.23 283.65,43.11 288.64,42.87" fill="#000"/>
<polygon points="326.40,32.20 328.16,36.87 333.15,37.11 329.25,40.23 330.57,45.04 326.40,42.30 322.23,45.04 323.55,40.23 319.65,37.11 324.64,36.87" fill="#000"/>
<text transform="translate(110.0,106.4) rotate(-90)" font-size="14.8" font-family="'Liberation Sans', sans-serif" font-weight="bold">F<tspan dy="6.2" dx="0.6" font-size="13.8">0</tspan><tspan dy="-6.2" dx="-0.2">/F</tspan></text>
<text x="245.6" y="200.4" font-size="13.6" text-anchor="middle" font-family="'Liberation Sans', sans-serif" font-weight="bold">Bk [µM]</text>
<text x="339.5" y="161.5" font-size="11.3" text-anchor="end" font-family="'Liberation Sans', sans-serif" font-weight="bold">pH 7.4</text>
</svg>
</body></html>
